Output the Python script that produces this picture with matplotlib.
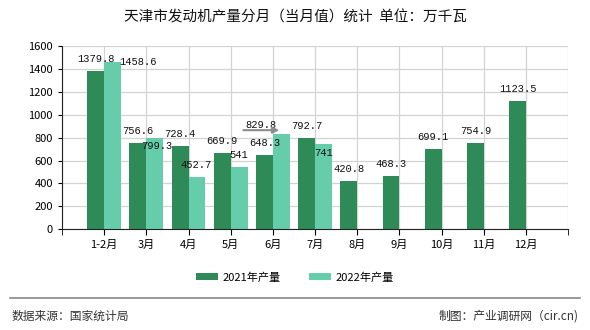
import matplotlib.pyplot as plt
import numpy as np

plt.rcParams['font.family'] = ['Noto Sans CJK SC', 'DejaVu Sans']

months = ['1-2月', '3月', '4月', '5月', '6月', '7月', '8月', '9月', '10月', '11月', '12月']
y2021 = [1379.8, 756.6, 728.4, 669.9, 648.3, 792.7, 420.8, 468.3, 699.1, 754.9, 1123.5]
y2022 = [1458.6, 799.3, 452.7, 541, 829.8, 741]
c2021 = '#2e8b57'
c2022 = '#66cdaa'

fig = plt.figure(figsize=(5.9, 3.3), dpi=100)
ax = fig.add_axes([0.105, 0.305, 0.858, 0.556])

x = np.arange(len(months))
w = 0.4
b1 = ax.bar(x - w / 2, y2021, w, color=c2021, label='2021年产量', zorder=2)
b2 = ax.bar(x[:len(y2022)] + w / 2, y2022, w, color=c2022, label='2022年产量', zorder=2)

# 数值标签（2022年的标签位置照原图错开，单位：像素）
lab_font = dict(fontsize=7.5, family=['Liberation Mono', 'DejaVu Sans Mono'], color='#111111')
for xi, v in zip(x, y2021):
    ax.annotate(f'{v:g}', (xi - w / 2, v), xytext=(0, 12), textcoords='offset pixels',
                ha='center', va='center', zorder=3, **lab_font)
off22 = [(25, 0), (2, -8), (-1, 12), (0, 12), (-20, 9), (0, -9)]
for xi, v, (dx, dy) in zip(x, y2022, off22):
    ax.annotate(f'{v:g}', (xi + w / 2, v), xytext=(dx, dy), textcoords='offset pixels',
                ha='center', va='center', zorder=3, **lab_font)

# 6月附近的灰色小箭头
ya = y2022[4] + 35
ax.annotate('', xy=(4 + w / 2 - 0.05, ya), xytext=(4 + w / 2 - 0.9, ya), zorder=3,
            arrowprops=dict(arrowstyle='-|>', color='#8c8c8c', lw=1.5, mutation_scale=9,
                            shrinkA=0, shrinkB=0))

ax.set_xlim(-1, 11)
ax.set_ylim(0, 1600)
ax.set_yticks(range(0, 1601, 200))
ax.set_xticks(x)
ax.set_xticklabels(months, fontsize=8)
ax.set_xticks(np.arange(-1, 12), minor=True)
ax.tick_params(axis='y', labelsize=8, length=3)
ax.tick_params(axis='x', which='major', length=4)
ax.tick_params(axis='x', which='minor', length=4)
ax.grid(True, which='major', axis='y', color='#d3d3d3', lw=0.9, zorder=0)
ax.grid(True, which='both', axis='x', color='#d3d3d3', lw=0.9, zorder=0)
for s in ['top', 'right']:
    ax.spines[s].set_visible(False)
for s in ['left', 'bottom']:
    ax.spines[s].set_color('#222222')

fig.text(0.5, 0.947, '天津市发动机产量分月（当月值）统计  单位：万千瓦', ha='center', va='center',
         fontsize=10.5, color='#111111')

fig.legend(handles=[b1, b2], loc='center', bbox_to_anchor=(0.5, 0.16), ncol=2, frameon=False,
           fontsize=8, handlelength=2.0, handleheight=0.7, columnspacing=2.5, handletextpad=0.4)

fig.add_artist(plt.Line2D([0.017, 0.983], [0.097, 0.097], color='#888888', lw=1.2))
fig.text(0.02, 0.042, '数据来源：国家统计局', ha='left', va='center', fontsize=8.5, color='#333333')
fig.text(0.98, 0.042, '制图：产业调研网（cir.cn)', ha='right', va='center', fontsize=8.5, color='#333333')

fig.savefig('out.png', dpi=100)
